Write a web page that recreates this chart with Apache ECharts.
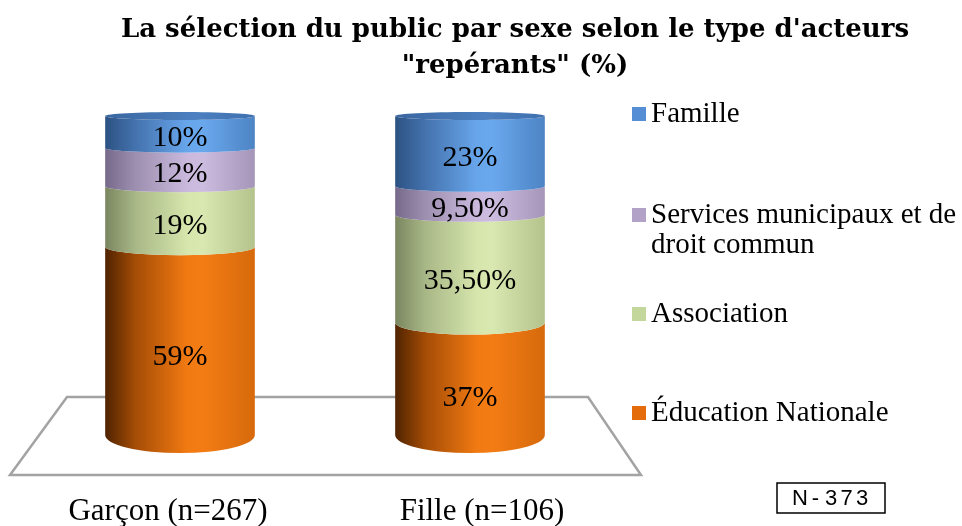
<!DOCTYPE html>
<html lang="fr">
<head>
    <meta charset="UTF-8">
    <title>Sélection du public par sexe</title>
    <script src="https://cdn.jsdelivr.net/npm/echarts@6/dist/echarts.min.js"></script>
</head>
<body style="margin:0;background:#fff;">
<div id="main" style="width: 962px;height:526px;"></div>
<script type="text/javascript">
    // données
    var categories = ['Garçon (n=267)', 'Fille (n=106)'];
    var seriesNames = ['Éducation Nationale', 'Association', 'Services municipaux et de droit commun', 'Famille'];
    var education = [59, 37];
    var association = [19, 35.5];
    var services = [12, 9.5];
    var famille = [10, 23];
    var values = [education, association, services, famille];

    var legendColors = ['#E46C0A', '#C3D69B', '#B3A2C7', '#558ED5'];
    var cylStops = [
        ['#4f2300', '#a44c06', '#f27a12', '#f47c14', '#d66a0c'],
        ['#7a8660', '#a8b786', '#d6e6ac', '#d8e8b0', '#b4c38c'],
        ['#76698a', '#9d8fb0', '#cab9dd', '#ccbcdf', '#a596b9'],
        ['#2c5283', '#4472ad', '#68a6ec', '#6aa8ee', '#4d84c4']
    ];
    var FONT = '"Liberation Serif", serif';

    // empilement à 100 %
    var totals = categories.map(function (c, i) {
        return values.reduce(function (s, arr) { return s + arr[i]; }, 0);
    });

    function fmt(v) {
        return (Math.round(v) === v ? String(v) : v.toFixed(2).replace('.', ',')) + '%';
    }

    // perspective : l'ellipse s'aplatit vers le haut
    function ry(y) {
        var t = Math.max(0, Math.min(1, (y - 115) / 320));
        return 4 + Math.pow(t, 1.3) * 14;
    }

    var series = values.map(function (arr, s) {
        var data = categories.map(function (c, i) {
            var start = 0;
            for (var k = 0; k < s; k++) start += values[k][i] / totals[i] * 100;
            return [i, start, start + arr[i] / totals[i] * 100, arr[i]];
        });
        return {
            name: seriesNames[s],
            type: 'custom',
            itemStyle: { color: legendColors[s] },
            data: data,
            renderItem: function (params, api) {
                var x = api.value(0);
                var pB = api.coord([x, api.value(1)]);
                var pT = api.coord([x, api.value(2)]);
                var w = api.size([1, 0])[0] * 0.258;
                var cx = pB[0], yB = pB[1], yT = pT[1];
                var rB = ry(yB), rT = ry(yT);
                var st = cylStops[s];
                var grad = new echarts.graphic.LinearGradient(0, 0, 1, 0, [
                    { offset: 0, color: st[0] },
                    { offset: 0.2, color: st[1] },
                    { offset: 0.55, color: st[2] },
                    { offset: 0.65, color: st[3] },
                    { offset: 1, color: st[4] }
                ]);
                var d = 'M' + (cx - w) + ',' + yT +
                    ' A' + w + ',' + rT + ' 0 0 0 ' + (cx + w) + ',' + yT +
                    ' L' + (cx + w) + ',' + yB +
                    ' A' + w + ',' + rB + ' 0 0 1 ' + (cx - w) + ',' + yB + ' Z';
                var children = [{
                    type: 'path',
                    shape: { pathData: d },
                    style: { fill: grad }
                }];
                if (s === values.length - 1) {
                    children.push({
                        type: 'ellipse',
                        shape: { cx: cx, cy: yT, rx: w, ry: rT },
                        style: {
                            fill: new echarts.graphic.LinearGradient(0, 0, 1, 0, [
                                { offset: 0, color: '#3a66a0' },
                                { offset: 0.6, color: '#4c80c0' },
                                { offset: 1, color: '#3f6fae' }
                            ])
                        }
                    });
                }
                var mid = (yT + yB) / 2;
                children.push({
                    type: 'text',
                    x: cx,
                    y: mid + ry(mid) * 1.2 + 1,
                    style: {
                        text: fmt(api.value(3)),
                        fill: '#000',
                        font: '30px ' + FONT,
                        align: 'center',
                        verticalAlign: 'middle'
                    }
                });
                return { type: 'group', children: children };
            }
        };
    });

    function legendAt(name, top, label) {
        var l = {
            data: [name],
            left: 627,
            top: top,
            orient: 'vertical',
            icon: 'rect',
            itemWidth: 14,
            itemHeight: 14,
            selectedMode: false,
            textStyle: { fontFamily: FONT, fontSize: 29, color: '#000', lineHeight: 30 }
        };
        if (label) l.formatter = label;
        return l;
    }

    var myChart = echarts.init(document.getElementById('main'));

    var option = {
        animation: false,
        grid: { left: 35, right: 347, top: 116, bottom: 91, outerBoundsMode: 'none' },
        xAxis: {
            type: 'category',
            data: categories,
            axisLine: { show: false },
            axisTick: { show: false },
            axisLabel: {
                margin: 61,
                formatter: function (v, i) { return '{c' + i + '|' + v + '}'; },
                rich: {
                    c0: { fontFamily: FONT, fontSize: 31, color: '#000', padding: [0, 24, 0, 0] },
                    c1: { fontFamily: FONT, fontSize: 31, color: '#000', padding: [0, 0, 0, 24] }
                }
            }
        },
        yAxis: { type: 'value', min: 0, max: 100, show: false },
        legend: [
            legendAt(seriesNames[3], 94),
            // ligne vide en tête : le carré reste en face de la première ligne
            legendAt(seriesNames[2], 165, '\nServices municipaux et de\ndroit commun'),
            legendAt(seriesNames[1], 294),
            legendAt(seriesNames[0], 393)
        ],
        graphic: [
            {
                type: 'polygon',
                z: -10,
                shape: { points: [[67, 397], [588, 397], [641, 475], [10, 475]] },
                style: { fill: '#fff', stroke: '#a3a3a3', lineWidth: 2.5 }
            },
            {
                type: 'text',
                x: 515,
                y: 48,
                style: {
                    text: 'La sélection du public par sexe selon le type d\'acteurs\n"repérants" (%)',
                    font: 'bold 26px "DejaVu Serif", serif',
                    fill: '#000',
                    align: 'center',
                    verticalAlign: 'middle',
                    lineHeight: 36
                }
            },
            {
                type: 'rect',
                shape: { x: 777, y: 483, width: 108, height: 30 },
                style: { fill: '#fff', stroke: '#000', lineWidth: 1.5 }
            },
            {
                type: 'text',
                x: 831,
                y: 499,
                style: {
                    text: '{c|N}{c|-}{c|3}{c|7}{c|3}',
                    rich: { c: { width: 15.5, align: 'center', fontFamily: 'Liberation Sans', fontSize: 22, color: '#222' } },
                    align: 'center',
                    verticalAlign: 'middle'
                }
            }
        ],
        series: series
    };

    myChart.setOption(option);
</script>
</body>
</html>
